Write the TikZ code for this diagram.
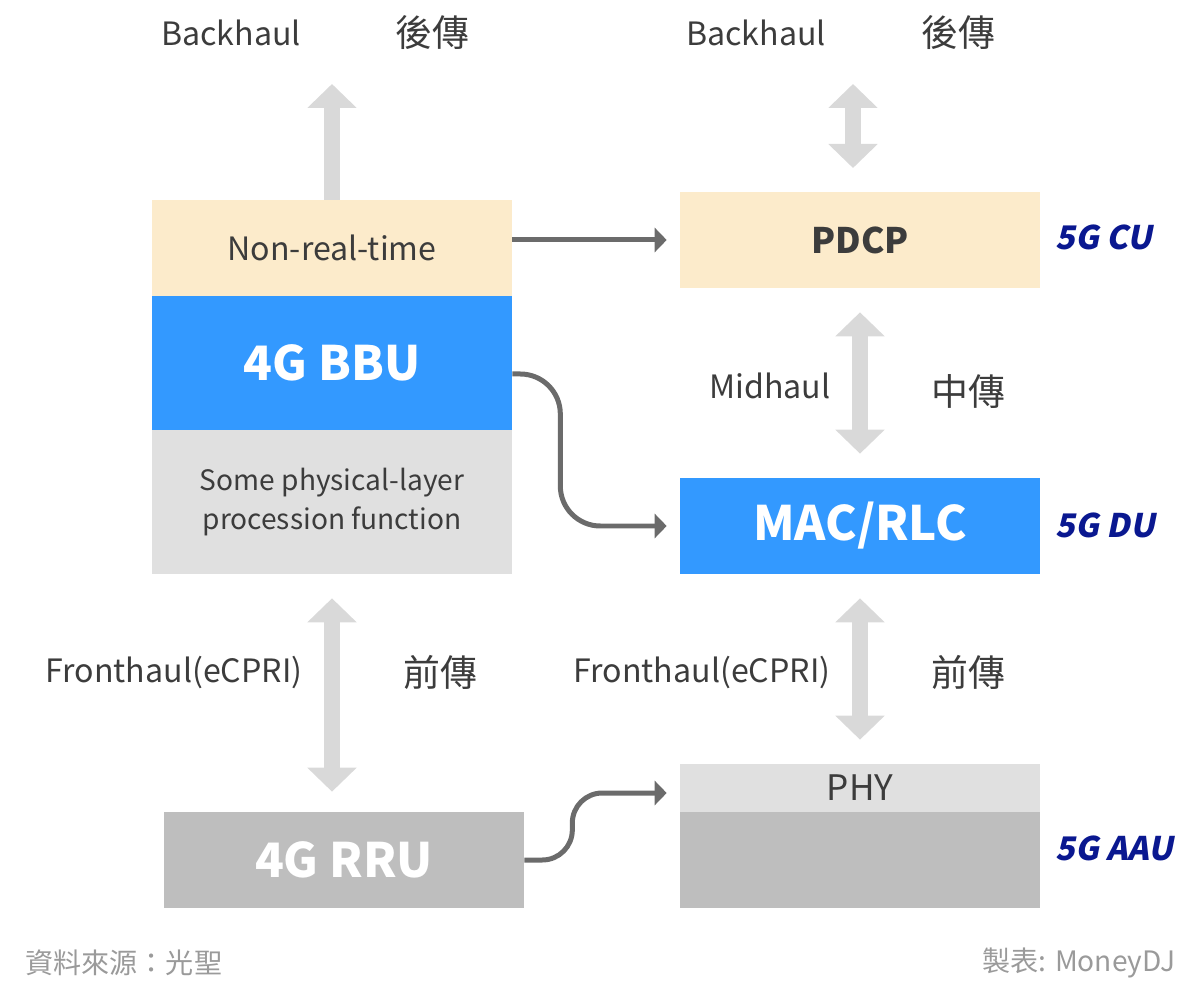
\documentclass[tikz,border=0pt]{standalone}
\usepackage{fontspec}
\setmainfont{Noto Sans CJK TC}
\newfontfamily\tagfont[FakeSlant=0.2]{Noto Sans CJK TC}
\usetikzlibrary{arrows.meta}

\definecolor{cream}{HTML}{FCEBCB}
\definecolor{bblue}{HTML}{3399FF}
\definecolor{lgray}{HTML}{E0E0E0}
\definecolor{mgray}{HTML}{BEBEBE}
\definecolor{agray}{HTML}{D9D9D9}
\definecolor{cgray}{HTML}{6B6B6B}
\definecolor{txt}{HTML}{3C3C3C}
\definecolor{navy}{HTML}{0A1890}
\definecolor{foot}{HTML}{9A9A9A}

\begin{document}
\begin{tikzpicture}
[x=0.02cm,y=-0.02cm,
  box/.style={inner sep=0pt,minimum width=7.2cm,text=txt,align=center},
  lbl/.style={text=txt,font=\fontsize{18.3}{22}\selectfont},
  hanzi/.style={text=txt,font=\fontsize{21}{25}\selectfont},
  tag/.style={text=navy,inner sep=0pt,font=\tagfont\bfseries\fontsize{18.5}{22}\selectfont,anchor=west},
  fat/.style={draw=agray,line width=0.32cm,{Triangle[length=0.48cm,width=0.96cm]}-{Triangle[length=0.48cm,width=0.96cm]}},
  conn/.style={draw=cgray,line width=0.1cm,-{Triangle[length=0.24cm,width=0.48cm]},shorten >=0.26cm}]
  \useasboundingbox (0,0) rectangle (1200,996);

  % 4G side
  \node[box,fill=cream,minimum height=1.92cm,font=\fontsize{18.3}{22}\selectfont] (nrt) at (332,248) {Non-real-time};
  \node[box,fill=bblue,minimum height=2.68cm,text=white,font=\bfseries\fontsize{27}{31}\selectfont] (bbu) at (332,363) {4G BBU};
  \node[box,fill=lgray,minimum height=2.88cm,font=\fontsize{16}{22}\selectfont] (phys) at (332,502) {Some physical-layer\\procession function};
  \node[box,fill=mgray,minimum height=1.92cm,text=white,font=\bfseries\fontsize{27}{31}\selectfont] (rru) at (344,860) {4G RRU};

  % 5G side
  \node[box,fill=cream,minimum height=1.92cm,font=\bfseries\fontsize{20}{24}\selectfont] (pdcp) at (860,240) {PDCP};
  \node[box,fill=bblue,minimum height=1.92cm,text=white,font=\bfseries\fontsize{27}{31}\selectfont] (mac) at (860,526) {MAC/RLC};
  \node[box,fill=lgray,minimum height=0.96cm,font=\fontsize{20}{24}\selectfont] (phy) at (860,788) {PHY};
  \node[box,fill=mgray,minimum height=1.92cm] (aau) at (860,860) {};

  \node[tag] (cu) at (1055,237) {5G CU};
  \node[tag] (du) at (1055,525) {5G DU};
  \node[tag] (aautag) at (1055,848) {5G AAU};

  % labels
  \node[lbl] (bh1) at (231,33) {Backhaul};
  \node[hanzi] (hc1) at (432,33) {後傳};
  \node[lbl] (bh2) at (756,33) {Backhaul};
  \node[hanzi] (hc2) at (958,33) {後傳};
  \node[lbl] (mh) at (770,386) {Midhaul};
  \node[hanzi] (zc) at (968,391) {中傳};
  \node[lbl] (fh1) at (174,672) {Fronthaul(eCPRI)};
  \node[hanzi] (qc1) at (440,672) {前傳};
  \node[lbl] (fh2) at (702,672) {Fronthaul(eCPRI)};
  \node[hanzi] (qc2) at (968,672) {前傳};

  \node[text=foot,inner sep=0pt,font=\fontsize{16}{19}\selectfont,anchor=west] (src) at (25,963) {資料來源：光聖};
  \node[text=foot,inner sep=0pt,font=\fontsize{16}{19}\selectfont,anchor=east] (by) at (1176,963) {製表: MoneyDJ};

  \coordinate (up1) at (332,84);
  \coordinate (up2) at (853,84);
  \coordinate (dn2) at (853,168);

  % gray links
  \draw[fat,-{Triangle[length=0.48cm,width=0.96cm]}] (nrt.north) -- (up1);
  \draw[fat] (up2) -- (dn2);
  \draw[fat,shorten <=0.48cm,shorten >=0.48cm] (pdcp.south) -- (mac.north);
  \draw[fat,shorten <=0.48cm,shorten >=0.48cm] (mac.south) -- (phy.north);
  \draw[fat,shorten <=0.48cm,shorten >=0.4cm] (phys.south) -- (phys.south |- rru.north);

  % dark connectors
  \draw[conn] (nrt.east |- pdcp.west) -- (pdcp.west);
  \draw[conn,rounded corners=0.8cm] ([yshift=-0.22cm]bbu.east) -- ++(48,0) |- (mac.west);
  \draw[conn,rounded corners=0.6cm] (rru.east) -- ++(48,0) |- ([yshift=-0.1cm]phy.west);

\end{tikzpicture}
\end{document}
